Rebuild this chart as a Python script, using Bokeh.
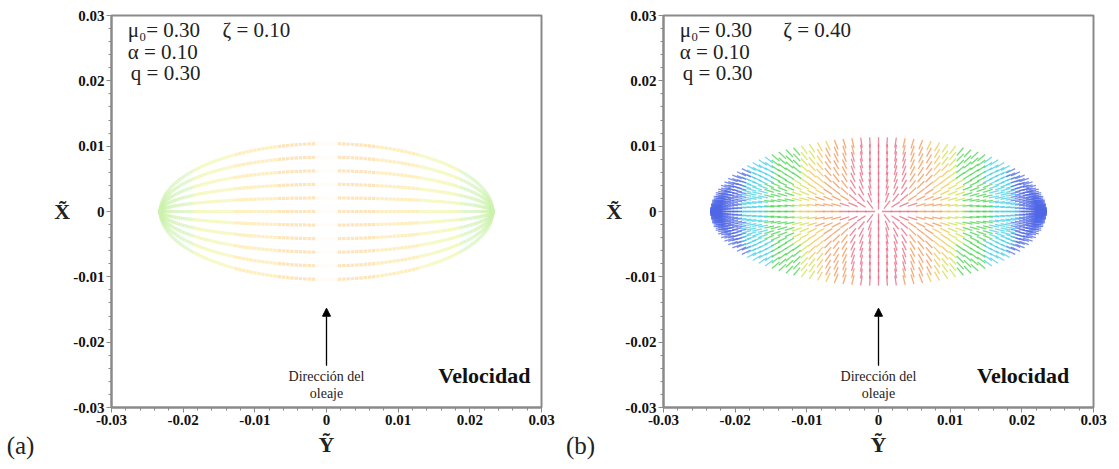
import numpy as np
from bokeh.plotting import figure
from bokeh.layouts import row
from bokeh.models import (Range1d, FixedTicker, PrintfTickFormatter, Label,
                          Arrow, NormalHead, ColumnDataSource)
from bokeh.embed import file_html
from bokeh.resources import INLINE

# ---------------- data ----------------
major_ticks = [-0.03, -0.02, -0.01, 0.0, 0.01, 0.02, 0.03]
minor_ticks = [-0.028, -0.026, -0.024, -0.022, -0.018, -0.016, -0.014, -0.012,
               -0.008, -0.006, -0.004, -0.002, 0.002, 0.004, 0.006, 0.008,
               0.012, 0.014, 0.016, 0.018, 0.022, 0.024, 0.026, 0.028]

# ellipse of grid points (semi-axis along Y~ horizontal, along X~ vertical)
ellipse_a = {"half_y": 0.0232, "half_x": 0.0104}
ellipse_b = {"half_y": 0.0228, "half_x": 0.0106}
meridians_a = [-1.0, -0.8, -0.6, -0.4, -0.2, 0.0, 0.2, 0.4, 0.6, 0.8, 1.0]
meridians_b = [-1.0, -0.9, -0.8, -0.7, -0.6, -0.5, -0.4, -0.3, -0.2, -0.1, 0.0,
               0.1, 0.2, 0.3, 0.4, 0.5, 0.6, 0.7, 0.8, 0.9, 1.0]
points_a = 121
points_b = 61

# colour bands against a normalised distance from the centre
bands_a_edges = [0.07, 0.30, 0.55, 0.80]
bands_a_colors = ["#fff6ee", "#ffc878", "#ffdc7a", "#eef28e", "#cdf2ae"]
bands_b_edges = [0.22, 0.38, 0.46, 0.54, 0.70, 0.85]
bands_b_colors = ["#e8607c", "#f4904c", "#f2c244", "#cfe040", "#3fd444", "#3fcfe6", "#5068e6"]

params_a = ["μ₀= 0.30", "α = 0.10", "q = 0.30"]
zeta_a = "ζ = 0.10"
params_b = ["μ₀= 0.30", "α = 0.10", "q = 0.30"]
zeta_b = "ζ = 0.40"

SERIF = "Liberation Serif"
PX_X = 430 / 0.06   # pixels per data unit horizontally
PX_Y = 392 / 0.06   # pixels per data unit vertically
TAG_W = 40


def band_color(t, edges, colors):
    for e, c in zip(edges, colors):
        if t < e:
            return c
    return colors[-1]


def build_field(ell, fracs, npts, length_px, mode, edges, colors, x_weight):
    A, B = ell["half_y"], ell["half_x"]
    th = np.linspace(0, np.pi, npts)
    x0, y0, x1, y1, col = [], [], [], [], []
    for s in fracs:
        for t in th:
            X = A * np.cos(t)
            Yv = s * B * np.sin(t)
            if mode == "tangent":
                dx, dy = -A * np.sin(t), s * B * np.cos(t)
                if abs(dx) + abs(dy) < 1e-12:
                    dx, dy = 1.0, 0.0
            else:
                dx, dy = X, Yv * 1.6
                if abs(dx) + abs(dy) < 1e-9:
                    continue
            sx, sy = dx * PX_X, dy * PX_Y
            n = np.hypot(sx, sy)
            sx, sy = sx / n * length_px / 2, sy / n * length_px / 2
            ddx, ddy = sx / PX_X, sy / PX_Y
            x0.append(X - ddx); y0.append(Yv - ddy)
            x1.append(X + ddx); y1.append(Yv + ddy)
            tn = abs(X) / A + x_weight * abs(Yv) / B
            col.append(band_color(tn, edges, colors))
    return ColumnDataSource(dict(x0=x0, y0=y0, x1=x1, y1=y1, c=col))


def make_tag(label):
    t = figure(frame_width=TAG_W, frame_height=392, x_range=Range1d(0, 1),
               y_range=Range1d(0, 1), min_border_left=0, min_border_right=0,
               min_border_top=15, min_border_bottom=62,
               output_backend="svg", toolbar_location=None)
    t.yaxis.visible = False
    t.grid.visible = False
    t.outline_line_color = None
    xa = t.xaxis[0]
    xa.ticker = FixedTicker(ticks=[])
    xa.axis_line_color = None
    xa.major_tick_line_color = None
    xa.minor_tick_line_color = None
    xa.axis_label = label
    xa.axis_label_text_font = SERIF
    xa.axis_label_text_font_style = "normal"
    xa.axis_label_text_font_size = "25px"
    xa.axis_label_text_color = "#222222"
    xa.axis_label_standoff = 24
    return t


def make_panel(left, right, src, width_line, alpha, params, zeta, zeta_x, velo_x):
    p = figure(frame_width=430, frame_height=392,
               min_border_left=left, min_border_right=right,
               min_border_top=15, min_border_bottom=62,
               x_range=Range1d(-0.03, 0.03), y_range=Range1d(-0.03, 0.03),
               output_backend="svg", toolbar_location=None)
    p.grid.visible = False
    p.outline_line_color = "#8a8a8a"
    p.outline_line_width = 2
    p.background_fill_color = "white"
    p.border_fill_color = "white"
    for ax in (p.xaxis[0], p.yaxis[0]):
        ax.ticker = FixedTicker(ticks=major_ticks, minor_ticks=minor_ticks)
        ax.formatter = PrintfTickFormatter(format="%.2f")
        ax.major_label_overrides = {0: "0"}
        ax.axis_line_color = "#8a8a8a"
        ax.axis_line_width = 2
        ax.major_tick_line_color = "#8a8a8a"
        ax.minor_tick_line_color = "#8a8a8a"
        ax.major_tick_out = 5
        ax.major_tick_in = 0
        ax.minor_tick_out = 3
        ax.minor_tick_in = 0
        ax.major_label_text_font = SERIF
        ax.major_label_text_font_style = "bold"
        ax.major_label_text_font_size = "15px"
        ax.major_label_text_color = "#111111"
        ax.major_label_standoff = 2
        ax.axis_label_text_font = SERIF
        ax.axis_label_text_font_style = "bold"
        ax.axis_label_text_font_size = "22px"
        ax.axis_label_text_color = "#222222"
    xa = p.xaxis[0]
    xa.axis_label = "Y\u0303"
    xa.axis_label_standoff = 4
    ya = p.yaxis[0]
    ya.axis_label = "X\u0303"
    ya.axis_label_standoff = 0
    ya.axis_label_orientation = "horizontal"

    p.segment("x0", "y0", "x1", "y1", source=src, line_color="c",
              line_width=width_line, line_alpha=alpha)

    ys = [0.02588, 0.02251, 0.01935]
    xs = [-0.02775, -0.02775, -0.0273]
    for t, xx, yy in zip(params, xs, ys):
        p.add_layout(Label(x=xx, y=yy, text=t, text_font=SERIF,
                           text_font_size="21px", text_color="#222222"))
    p.add_layout(Label(x=zeta_x, y=ys[0], text=zeta, text_font=SERIF,
                       text_font_size="21px", text_color="#222222"))

    # wave direction arrow and caption
    p.add_layout(Arrow(x_start=0, y_start=-0.0236, x_end=0, y_end=-0.0148,
                       line_width=1.3, line_color="black",
                       end=NormalHead(size=8, fill_color="black", line_color="black")))
    p.add_layout(Label(x=0, y=-0.0264, text="Dirección del", text_align="center",
                       text_font=SERIF, text_font_size="14px", text_color="#222222"))
    p.add_layout(Label(x=0, y=-0.0290, text="oleaje", text_align="center",
                       text_font=SERIF, text_font_size="14px", text_color="#222222"))
    p.add_layout(Label(x=velo_x, y=-0.0270, text="Velocidad", text_align="right",
                       text_font=SERIF, text_font_style="bold",
                       text_font_size="22px", text_color="#111111"))
    return p


src_a = build_field(ellipse_a, meridians_a, points_a, 3.5, "tangent",
                    bands_a_edges, bands_a_colors, 0.0)
src_b = build_field(ellipse_b, meridians_b, points_b, 10.0, "radial",
                    bands_b_edges, bands_b_colors, 0.08)

pa = make_panel(111 - TAG_W, 19, src_a, 3.2, 0.48, params_a, zeta_a, -0.0145, 0.02845)
pb = make_panel(103 - TAG_W, 26, src_b, 1.3, 0.75, params_b, zeta_b, -0.0133, 0.0266)

layout = row(make_tag("(a)"), pa, make_tag("(b)"), pb)
open("out.html", "w").write(file_html(layout, INLINE))
